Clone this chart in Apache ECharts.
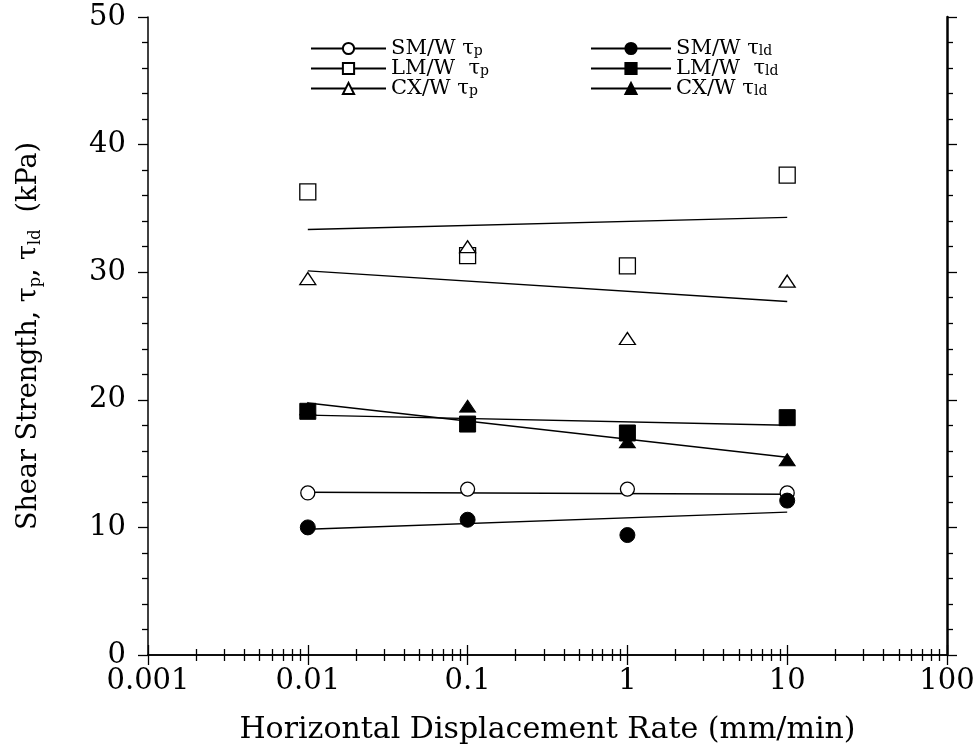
<!DOCTYPE html>
<html>
<head>
<meta charset="utf-8">
<script src="https://cdn.jsdelivr.net/npm/echarts@6/dist/echarts.min.js"></script>
<style>html,body{margin:0;padding:0;background:#fff}#c{width:978px;height:756px}</style>
</head>
<body>
<div id="c"></div>
<script>
// ---- data ----
var rates = [0.01, 0.1, 1, 10];
var smTp  = [12.7, 13.0, 13.0, 12.7];
var lmTp  = [36.3, 31.3, 30.5, 37.6];
var cxTp  = [29.5, 32.0, 24.8, 29.3];
var smTld = [10.0, 10.6, 9.4, 12.1];
var lmTld = [19.1, 18.1, 17.4, 18.6];
var cxTld = [19.3, 19.5, 16.7, 15.3];
// fitted lines: value at first and last rate
var fitRates = [0.01, 10];
var smTpFit  = [12.75, 12.6];
var lmTpFit  = [33.35, 34.3];
var cxTpFit  = [30.1, 27.7];
var smTldFit = [9.85, 11.2];
var lmTldFit = [18.8, 18.0];
var cxTldFit = [19.75, 15.5];
var xTicks = [0.001, 0.01, 0.1, 1, 10, 100];
var yTicks = [0, 10, 20, 30, 40, 50];

var FONT = 'DejaVu Serif';
function pairs(xs, ys) { return xs.map(function (x, i) { return [x, ys[i]]; }); }

var groups = [
  { name: 'SM/W τp',  pts: smTp,  fit: smTpFit,  symbol: 'circle',   size: 14, open: true },
  { name: 'LM/W  τp', pts: lmTp,  fit: lmTpFit,  symbol: 'rect',     size: 16, open: true },
  { name: 'CX/W τp',  pts: cxTp,  fit: cxTpFit,  symbol: 'triangle', size: [16, 12], open: true },
  { name: 'SM/W τld', pts: smTld, fit: smTldFit, symbol: 'circle',   size: 15, open: false },
  { name: 'LM/W  τld', pts: lmTld, fit: lmTldFit, symbol: 'rect',    size: 16, open: false },
  { name: 'CX/W τld', pts: cxTld, fit: cxTldFit, symbol: 'triangle', size: [16, 12], open: false }
];

function styleOf(g) {
  return g.open
    ? { color: '#fff', borderColor: '#000', borderWidth: 1.3, opacity: 1 }
    : { color: '#000', borderColor: '#000', borderWidth: 1, opacity: 1 };
}

var series = [];
groups.forEach(function (g) {
  series.push({
    name: g.name, type: 'line', data: pairs(fitRates, g.fit),
    symbol: g.symbol, showSymbol: false, symbolSize: g.size,
    lineStyle: { color: '#000', width: 1.4 }, itemStyle: styleOf(g),
    silent: true, z: 2, animation: false
  });
});
groups.forEach(function (g) {
  series.push({
    name: g.name, type: 'scatter', data: pairs(rates, g.pts),
    symbol: g.symbol, symbolSize: g.size, itemStyle: styleOf(g),
    emphasis: { disabled: true },
    z: 3, animation: false
  });
});

function legendFmt(name) {
  var parts = name.split('τ');
  return '{t|' + parts[0] + 'τ}{s|' + parts[1] + '}';
}
var legendRich = {
  t: { fontFamily: FONT, fontSize: 21, color: '#000', lineHeight: 20 },
  s: { fontFamily: FONT, fontSize: 14, color: '#000', lineHeight: 12, verticalAlign: 'bottom' }
};

var axisLine = { show: true, lineStyle: { color: '#000', width: 1.5 } };
var tickStyle = { color: '#000', width: 1.3 };

var option = {
  backgroundColor: '#fff',
  animation: false,
  grid: { left: 148, right: 31, top: 17, bottom: 101, containLabel: false, outerBoundsMode: 'none' },
  legend: [
    { data: groups.slice(0, 3).map(function (g) { return g.name; }),
      orient: 'vertical', left: 305, top: 33, itemWidth: 75, itemHeight: 14, itemGap: -1,
      formatter: legendFmt, textStyle: { rich: legendRich } , selectedMode: false },
    { data: groups.slice(3).map(function (g) { return g.name; }),
      orient: 'vertical', left: 585, top: 33, itemWidth: 80, itemHeight: 14, itemGap: -1,
      formatter: legendFmt, textStyle: { rich: legendRich }, selectedMode: false }
  ],
  xAxis: [
    { type: 'log', logBase: 10, min: xTicks[0], max: xTicks[xTicks.length - 1], position: 'bottom',
      axisLine: axisLine,
      axisTick: { show: true, length: 10, lineStyle: tickStyle },
      minorTick: { show: true, splitNumber: 9, length: 6, lineStyle: tickStyle },
      splitLine: { show: false },
      axisLabel: { fontFamily: FONT, fontSize: 29, color: '#000', margin: 12,
        formatter: function (v) { return String(v); } },
      name: 'Horizontal Displacement Rate (mm/min)', nameLocation: 'middle', nameGap: 60,
      nameTextStyle: { fontFamily: FONT, fontSize: 30, color: '#000' } },
    { type: 'log', logBase: 10, min: xTicks[0], max: xTicks[xTicks.length - 1], position: 'top',
      axisLine: axisLine,
      axisTick: { show: true, length: 10, lineStyle: tickStyle },
      minorTick: { show: true, splitNumber: 9, length: 6, lineStyle: tickStyle },
      splitLine: { show: false }, axisLabel: { show: false } }
  ],
  yAxis: [
    { type: 'value', min: yTicks[0], max: yTicks[yTicks.length - 1], interval: 10, position: 'left',
      axisLine: axisLine,
      axisTick: { show: true, length: 10, lineStyle: tickStyle },
      minorTick: { show: true, splitNumber: 5, length: 6, lineStyle: tickStyle },
      splitLine: { show: false },
      axisLabel: { fontFamily: FONT, fontSize: 29, color: '#000', margin: 22 },
      name: '{t|Shear Strength, τ}{s|p}{t|, τ}{s|ld}{t|  (kPa)}', nameLocation: 'middle', nameGap: 104,
      nameRotate: 90,
      nameTextStyle: { rich: {
        t: { fontFamily: FONT, fontSize: 27, color: '#000', lineHeight: 30 },
        s: { fontFamily: FONT, fontSize: 16, color: '#000', lineHeight: 14, verticalAlign: 'bottom' } } } },
    { type: 'value', min: yTicks[0], max: yTicks[yTicks.length - 1], interval: 10, position: 'right',
      axisLine: { show: true, lineStyle: { color: '#000', width: 2.5 } },
      axisTick: { show: true, length: 10, lineStyle: tickStyle },
      minorTick: { show: true, splitNumber: 5, length: 6, lineStyle: tickStyle },
      splitLine: { show: false }, axisLabel: { show: false } }
  ],
  series: series
};
var chart = echarts.init(document.getElementById('c'), null, { renderer: 'canvas' });
chart.setOption(option);
</script>
</body>
</html>
